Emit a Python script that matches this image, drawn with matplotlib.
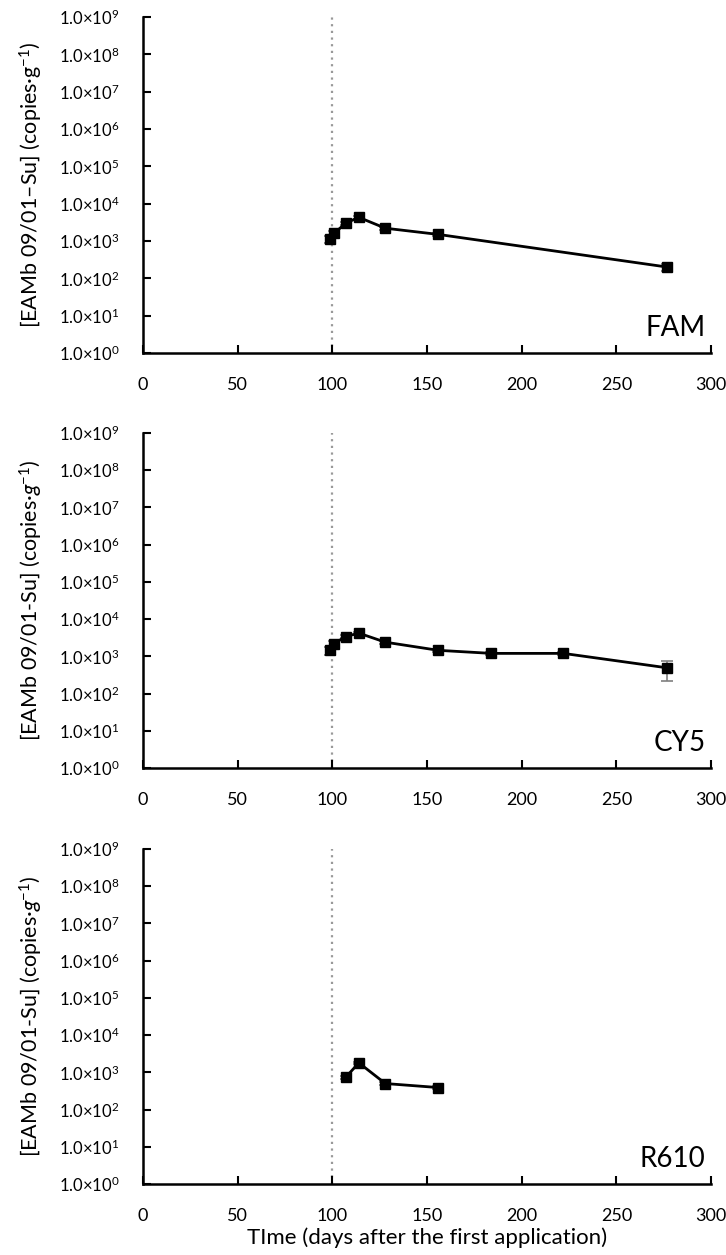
import matplotlib
matplotlib.use("Agg")
import matplotlib.pyplot as plt
import numpy as np

plt.rcParams['font.family'] = ['Lato', 'DejaVu Sans']
plt.rcParams['mathtext.fontset'] = 'custom'
plt.rcParams['mathtext.rm'] = 'Lato'
plt.rcParams['mathtext.it'] = 'Lato:italic'

# Data
fam_days = [99, 101, 107, 114, 128, 156, 277]
fam_vals = [1.15e3, 1.6e3, 3.0e3, 4.3e3, 2.2e3, 1.5e3, 200]
fam_err = [250, 300, 300, 400, 200, 150, 45]

cy5_days = [99, 101, 107, 114, 128, 156, 184, 222, 277]
cy5_vals = [1.45e3, 2.2e3, 3.4e3, 4.2e3, 2.4e3, 1.45e3, 1.2e3, 1.2e3, 490]
cy5_err = [350, 400, 300, 400, 200, 150, 100, 120, 270]

r610_days = [107, 114, 128, 156]
r610_vals = [730, 1.8e3, 500, 390]
r610_err = [60, 150, 50, 40]

labels = ["FAM", "CY5", "R610"]
ylabels = ["[EAMb 09/01\u2013Su] (copies\u00b7g$^{-1}$)",
           "[EAMb 09/01-Su] (copies\u00b7$\\it{g}$$^{-1}$)",
           "[EAMb 09/01-Su] (copies\u00b7$\\it{g}$$^{-1}$)"]
xticks = [0, 50, 100, 150, 200, 250, 300]
ydecades = list(range(0, 10))
marker_day = 100

series = [(fam_days, fam_vals, fam_err),
          (cy5_days, cy5_vals, cy5_err),
          (r610_days, r610_vals, r610_err)]

fig = plt.figure(figsize=(7.26, 12.55), dpi=100)
left = 143 / 726
width = (711 - 143) / 726
tops = [17, 433, 849]
bots = [353, 768, 1184]

for i, (d, v, e) in enumerate(series):
    b = 1 - bots[i] / 1255
    h = (bots[i] - tops[i]) / 1255
    ax = fig.add_axes([left, b, width, h])
    ax.set_yscale('log')
    ax.set_ylim(1, 1e9)
    ax.set_xlim(0, 300)
    ax.axvline(marker_day, color='#999999', linestyle=(0, (1, 2)), linewidth=1.6, zorder=1)
    ax.errorbar(d, v, yerr=e, fmt='none', ecolor='#7f7f7f', elinewidth=1.2, capsize=4, capthick=1.2, zorder=2)
    ax.plot(d, v, color='black', linewidth=2.0, marker='s', markersize=7.5, zorder=3)
    ax.spines['top'].set_visible(False)
    ax.spines['right'].set_visible(False)
    ax.spines['left'].set_linewidth(1.8)
    ax.spines['bottom'].set_linewidth(1.8)
    ax.set_yticks([10.0 ** k for k in ydecades])
    ax.set_yticklabels(["1.0\u00d710$^{%d}$" % k for k in ydecades])
    ax.yaxis.set_minor_locator(matplotlib.ticker.NullLocator())
    ax.set_xticks(xticks)
    ax.set_xticklabels([str(t) for t in xticks])
    ax.tick_params(axis='y', direction='in', length=6, width=1.5, labelsize=12, pad=17, colors='black')
    ax.tick_params(axis='x', direction='in', length=6, width=1.5, labelsize=13, pad=17)
    ax.set_ylabel(ylabels[i], fontsize=15.5)
    ax.yaxis.set_label_coords(-0.172, 0.5)
    ax.text(0.99, 0.035, labels[i], transform=ax.transAxes, ha='right', va='bottom', fontsize=20)
    if i == 2:
        ax.set_xlabel("TIme (days after the first application)", fontsize=16, labelpad=3)

fig.savefig("out.png", dpi=100)
